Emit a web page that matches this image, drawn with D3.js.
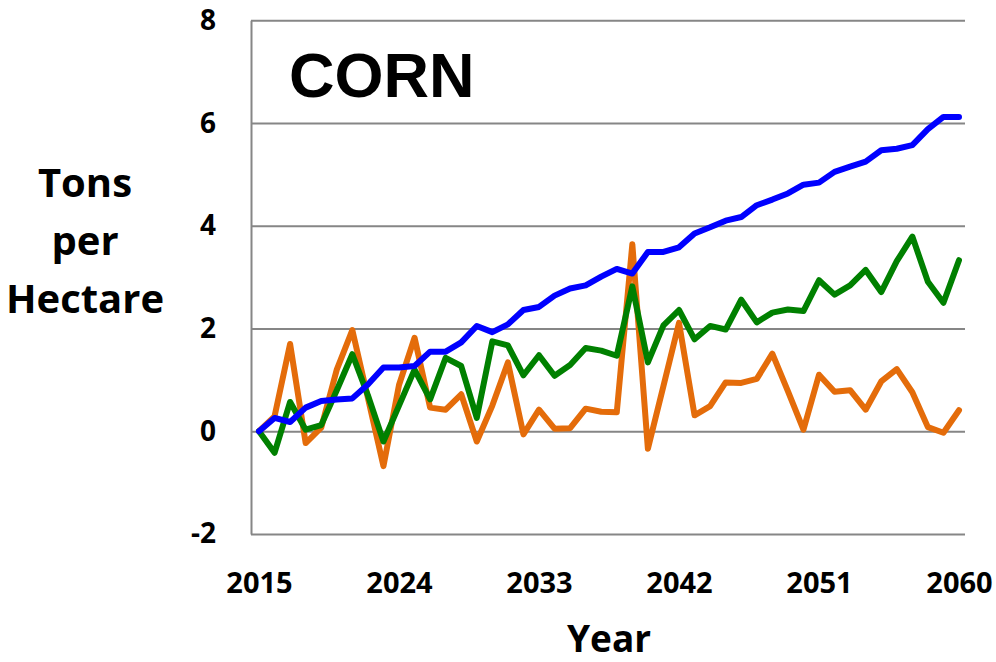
<!DOCTYPE html>
<html>
<head>
<meta charset="utf-8">
<script src="https://cdn.jsdelivr.net/npm/d3@7"></script>
<style>
  body { margin: 0; background: #fff; }
  svg { display: block; }
</style>
</head>
<body>
<script>
// yields per year, 2015-2060
var years = d3.range(2015, 2061);
var blueVals = [0, 0.26, 0.18, 0.46, 0.59, 0.62, 0.64, 0.91, 1.24, 1.24,
  1.27, 1.55, 1.55, 1.73, 2.05, 1.93, 2.08, 2.36, 2.42, 2.64,
  2.78, 2.84, 3.01, 3.16, 3.07, 3.49, 3.49, 3.58, 3.85, 3.97,
  4.10, 4.17, 4.40, 4.51, 4.63, 4.80, 4.84, 5.05, 5.15, 5.25,
  5.47, 5.50, 5.57, 5.88, 6.12, 6.12];
var greenVals = [0, -0.42, 0.57, 0.03, 0.12, 0.8, 1.50, 0.7, -0.2, 0.5,
  1.2, 0.62, 1.43, 1.27, 0.26, 1.75, 1.67, 1.09, 1.48, 1.08,
  1.29, 1.62, 1.57, 1.47, 2.82, 1.34, 2.06, 2.36, 1.79, 2.05,
  1.98, 2.56, 2.12, 2.31, 2.37, 2.34, 2.94, 2.66, 2.84, 3.14,
  2.71, 3.31, 3.79, 2.91, 2.50, 3.33];
var orangeVals = [0, 0.29, 1.70, -0.23, 0.07, 1.2, 1.97, 0.65, -0.68, 0.9,
  1.82, 0.46, 0.42, 0.72, -0.2, 0.5, 1.34, -0.06, 0.42, 0.05,
  0.06, 0.44, 0.38, 0.37, 3.64, -0.34, 0.88, 2.11, 0.31, 0.49,
  0.95, 0.94, 1.02, 1.51, 0.78, 0.03, 1.10, 0.77, 0.80, 0.42,
  0.97, 1.21, 0.76, 0.08, -0.03, 0.41];
var xTicks = [2015, 2024, 2033, 2042, 2051, 2060];
var yTicks = [-2, 0, 2, 4, 6, 8];

var w = 996, h = 662;
var plotL = 251, plotR = 965, plotT = 20.3, plotB = 534;
var font = "'Open Sans', sans-serif";

var svg = d3.select("body").append("svg")
  .attr("width", w)
  .attr("height", h);

var x = d3.scaleLinear().domain([2015, 2060]).range([259, 959]);
var y = d3.scaleLinear().domain([-2, 8]).range([plotB, plotT]);

// y axis with gridlines (plain hyphen for negatives, like the original)
var yAxis = svg.append("g")
  .attr("transform", "translate(" + plotL + ",0)")
  .call(d3.axisLeft(y).tickValues(yTicks).tickFormat(function(d) { return String(d); })
    .tickSize(-(plotR - plotL)).tickSizeOuter(0).tickPadding(35));
yAxis.select(".domain").attr("stroke", "#868686").attr("stroke-width", 2);
yAxis.selectAll(".tick line").attr("stroke", "#868686").attr("stroke-width", 2);
yAxis.selectAll(".tick text")
  .style("font-size", "28px")
  .style("font-family", font)
  .style("font-weight", "bold")
  .attr("fill", "#000");

// x axis labels (no tick marks)
var xAxis = svg.append("g")
  .attr("transform", "translate(0," + plotB + ")")
  .call(d3.axisBottom(x).tickValues(xTicks).tickFormat(function(d) { return String(d); })
    .tickSize(0).tickPadding(38));
xAxis.select(".domain").remove();
xAxis.selectAll(".tick text")
  .style("font-size", "29px")
  .style("font-family", font)
  .style("font-weight", "bold")
  .attr("fill", "#000");

// lines - orange first so blue ends up on top
var line = d3.line()
  .x(function(d, i) { return x(years[i]); })
  .y(function(d) { return y(d); });

var series = [
  { vals: orangeVals, color: "#E46C0A" },
  { vals: greenVals, color: "#008000" },
  { vals: blueVals, color: "#0000FF" }
];

svg.selectAll("path.series")
  .data(series)
  .enter()
  .append("path")
  .attr("class", "series")
  .attr("d", function(d) { return line(d.vals); })
  .attr("fill", "none")
  .attr("stroke", function(d) { return d.color; })
  .attr("stroke-width", 6)
  .attr("stroke-linejoin", "round")
  .attr("stroke-linecap", "round");

// title inside plot
svg.append("text")
  .attr("x", 289)
  .attr("y", 97)
  .style("font-family", "'Liberation Sans', Arial, sans-serif")
  .style("font-weight", "bold")
  .style("font-size", "63px")
  .text("CORN");

// y axis title, three lines
var yTitle = ["Tons", "per", "Hectare"];
svg.selectAll("text.ytitle")
  .data(yTitle)
  .enter()
  .append("text")
  .attr("class", "ytitle")
  .attr("x", 85)
  .attr("y", function(d, i) { return 197 + i * 58; })
  .attr("text-anchor", "middle")
  .style("font-family", font)
  .style("font-weight", "bold")
  .style("font-size", "40px")
  .text(function(d) { return d; });

svg.append("text")
  .attr("x", 609)
  .attr("y", 652)
  .attr("text-anchor", "middle")
  .style("font-family", font)
  .style("font-weight", "bold")
  .style("font-size", "37px")
  .text("Year");
</script>
</body>
</html>
